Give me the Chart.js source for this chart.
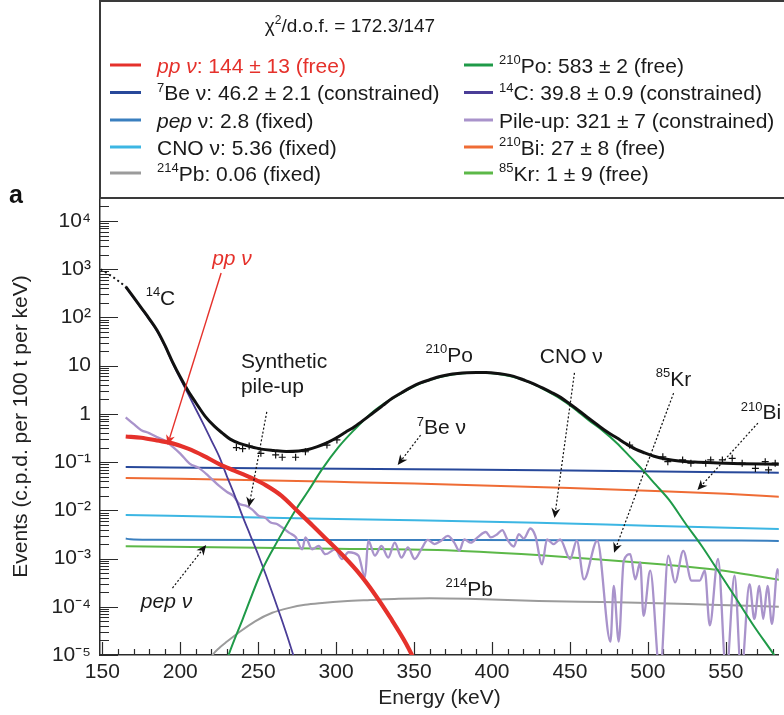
<!DOCTYPE html>
<html><head><meta charset="utf-8">
<script src="https://cdn.jsdelivr.net/npm/chart.js@4.4.1/dist/chart.umd.min.js"></script>
<style>html,body{margin:0;padding:0;background:#fff}canvas{display:block}</style>
</head><body>
<canvas id="c" width="784" height="715" style="width:784px;height:715px"></canvas>
<script>
// ---------- data ----------
const xTickValues = [150, 200, 250, 300, 350, 400, 450, 500, 550];
const yTickValues = [1e-5, 1e-4, 1e-3, 1e-2, 1e-1, 1, 10, 1e2, 1e3, 1e4];
const yTickLabels = ['10⁻⁵', '10⁻⁴', '10⁻³', '10⁻²', '10⁻¹', '1', '10', '10²', '10³', '10⁴'];

const totalLeadE = [149, 157, 165];
const totalLeadV = [1000, 680, 437];
const totalE = [165,170,175,180,185,190,195,200,205,210,216,222,227,232,238,245,252,260,268,276,282,288,294,300,306,312,318,324,330,336,342,348,354,360,366,372,378,384,390,396,402,408,414,420,426,432,438,444,450,456,462,468,474,480,486,492,498,504,512,520,530,545,560,575,585];
const totalV = [437,263,158,95,55,27,12,5.8,3.0,1.7,0.89,0.55,0.40,0.30,0.245,0.21,0.186,0.174,0.166,0.17,0.182,0.209,0.25,0.316,0.417,0.55,0.76,1.07,1.5,2.1,2.75,3.55,4.4,5.1,5.9,6.5,6.9,7.15,7.25,7.2,7.0,6.6,6.0,5.1,4.3,3.5,2.8,2.2,1.6,1.15,0.81,0.58,0.42,0.32,0.24,0.186,0.155,0.132,0.115,0.105,0.1,0.096,0.093,0.091,0.09];

const dataE = [236,240,244.2,251.7,261.2,265.4,274,280.3,294.1,300.5,488.3,509.6,512.8,522.3,527.6,537.1,540.3,547.8,554.1,560.5,569,575.3,577.4,581.7];
const dataV = [0.2,0.19,0.216,0.152,0.141,0.126,0.126,0.164,0.226,0.288,0.226,0.129,0.102,0.111,0.095,0.095,0.111,0.111,0.12,0.095,0.074,0.102,0.069,0.095];

const ppE = [165,175,185,195,205,215,225,235,245,255,265,275,285,295,305,315,325,335,345,352];
const ppV = [0.34,0.32,0.28,0.245,0.19,0.135,0.091,0.066,0.048,0.033,0.02,0.0098,0.0048,0.0023,0.0011,4.8e-4,1.78e-4,5.8e-5,1.7e-5,6e-6];

const po210E = [228,231,240,252.5,263,274,282.4,290.7,301.5,312,322,332,342,352,362,372,382,392,402,412,422,432,442,452,462,471,480,488,496.6,505,513.5,524,534.8,545,556,568,581,588];
const po210V = [5e-6,1e-5,5.5e-5,5.8e-4,2.5e-3,0.0102,0.026,0.069,0.204,0.48,1.0,1.74,2.7,4.0,5.25,6.3,7.0,7.15,6.85,6.0,4.8,3.4,2.25,1.35,0.74,0.45,0.25,0.135,0.069,0.034,0.0166,5.4e-3,1.78e-3,5.6e-4,1.6e-4,4e-5,1e-5,4.5e-6];

const c14E = [165,170,175,180,185,190,195,200,205,210,215,220,225,230,235,240,245,250,255,260,265,270,275];
const c14V = [430,258,155,92,53,26,11.5,5.4,2.6,1.25,0.6,0.28,0.13,0.05,0.02,7.5e-3,3e-3,1.2e-3,4.5e-4,1.6e-4,5.5e-5,1.8e-5,5.5e-6];

const pileE = [165,170,175,180,185,190,195,200,206,212,218,225,230,234,238,242,246,250.6,254,258,262,265.4,270,274,278.2,280.3,284.6,288.8,293.1,299.4,303.7,307.9,314.3,318.5,320.6,324.9,329.1,333.4,337.6,341.9,346.1,350.4,354.6,358.8,363.1,367.3,371.6,375.8,379,382.2,386.4,390.7,396,399.2,403.4,406.6,409.8,414,417.2,420.4,424.6,427.8,432.1,435.3,439.5,443.7,450.1,454.4,459,467.5,476,478.1,481.3,484.5,488.7,491.9,495.1,497.2,501.5,507.8,513.1,517.4,522.7,528,533.3,536.5,539.7,545,550.3,555.6,559.9,565.2,568.3,571.5,574,576.8,579.6,583.2,586];
const pileV = [0.85,0.62,0.46,0.4,0.33,0.28,0.21,0.15,0.093,0.075,0.052,0.032,0.024,0.02,0.0135,0.0125,0.0105,0.0076,0.0072,0.0056,0.0052,0.0044,0.0034,0.0028,0.00155,0.00275,0.00155,0.00182,0.00123,0.00155,0.00098,0.00135,0.00115,0.00041,0.00234,0.00115,0.00182,0.00105,0.00214,0.00105,0.0017,0.00098,0.00155,0.00245,0.002,0.00234,0.00295,0.00214,0.00145,0.0025,0.00214,0.00275,0.00355,0.00275,0.0032,0.0039,0.0025,0.00178,0.0032,0.0026,0.0042,0.00295,0.00076,0.0025,0.002,0.0025,0.00098,0.00234,0.00037,0.00234,1.9e-5,2.7e-4,1.9e-5,8.9e-4,1.23e-3,3.7e-4,8.3e-4,6.5e-5,5.6e-4,4e-6,1.15e-3,3.2e-4,1.45e-3,3.5e-4,3.5e-4,5.6e-4,4.1e-5,9.8e-4,4e-6,4.4e-4,4e-6,2.95e-4,5.6e-5,2.7e-4,5.6e-5,2.7e-4,4.4e-5,6e-4,2e-4];

const be7E = [165,250,350,450,550,585];
const be7V = [0.079,0.075,0.071,0.067,0.062,0.06];
const bi210E = [165,200,250,300,350,400,450,500,550,585];
const bi210V = [0.047,0.045,0.042,0.039,0.036,0.0325,0.029,0.0255,0.022,0.019];
const cnoE = [165,250,350,429,500,585];
const cnoV = [0.008,0.0071,0.0062,0.0055,0.0048,0.0041];
const pepE = [165,168,180,300,450,560,585];
const pepV = [0.0026,0.0025,0.00245,0.00243,0.0024,0.00237,0.00232];
const kr85E = [165,250,300,365,429,471,510,545,565,585];
const kr85V = [0.0018,0.00168,0.0016,0.0015,0.00118,0.00095,0.00075,0.00058,0.00046,0.00036];
const pb214E = [218,220.7,225,230,238,248,259,270,280,291,305,322,340,360,400,430,470,500,540,585];
const pb214V = [7e-6,1e-5,1.4e-5,1.9e-5,3e-5,5e-5,7.5e-5,9.5e-5,1.1e-4,1.2e-4,1.3e-4,1.38e-4,1.46e-4,1.5e-4,1.42e-4,1.32e-4,1.25e-4,1.2e-4,1.1e-4,1e-4];

// legend texts (* toggles italic, ^{..} superscript)
const legendTitle = 'χ^{2}/d.o.f. = 172.3/147';
const legendLeft = ['*pp ν*: 144 ± 13 (free)', '^{7}Be ν: 46.2 ± 2.1 (constrained)', '*pep* ν: 2.8 (fixed)', 'CNO ν: 5.36 (fixed)', '^{214}Pb: 0.06 (fixed)'];
const legendRight = ['^{210}Po: 583 ± 2 (free)', '^{14}C: 39.8 ± 0.9 (constrained)', 'Pile-up: 321 ± 7 (constrained)', '^{210}Bi: 27 ± 8 (free)', '^{85}Kr: 1 ± 9 (free)'];

// annotation labels in data coordinates [text, energy, value, align]
const annoLabels = [
  ['*pp ν*', 233.2, 1780, 'center', 'pp'],
  ['^{14}C', 187.3, 263, 'center'],
  ['Synthetic', 238.9, 12.6, 'left'],
  ['pile-up', 238.9, 3.8, 'left'],
  ['^{210}Po', 372.6, 17.4, 'center'],
  ['^{7}Be ν', 367.5, 0.54, 'center'],
  ['CNO ν', 450.9, 16.6, 'center'],
  ['^{85}Kr', 516.5, 5.56, 'center'],
  ['^{210}Bi', 572.5, 1.1, 'center'],
  ['^{214}Pb', 385.4, 2.45e-4, 'center'],
  ['*pep ν*', 191.2, 1.38e-4, 'center']
];
// arrows [E1, v1, E2, v2, dotted]
const annoArrows = [
  [226.2, 832, 191.8, 0.226, false],
  [255.5, 1.1, 244, 0.0117, true],
  [354.2, 0.363, 339.5, 0.087, true],
  [452.9, 7.1, 440.1, 0.0069, true],
  [516.5, 2.7, 478.3, 0.00132, true],
  [570.6, 0.646, 531.8, 0.0263, true],
  [195, 2.45e-4, 216.6, 1.9e-3, true]
];

// ---------- styles ----------
const FONT = "'Liberation Sans', Arial, Helvetica, sans-serif";
const C = {
  total:'#111111', pp:'#e5312b', be7:'#27489a', pep:'#3a7fbf', cno:'#3cb6e3', pb214:'#9b9b9b',
  po210:'#1f9a48', c14:'#4a3d97', pile:'#a993cb', bi210:'#ef6c35', kr85:'#5cb848'
};
const pts = (E, V) => E.map((e, i) => ({x: e, y: V[i]}));
const line = (label, E, V, color, w, extra) => Object.assign({label, data: pts(E, V), borderColor: color, backgroundColor: color, borderWidth: w, pointRadius: 0, fill: false}, extra || {});

const datasets = [
  Object.assign(line('Data', dataE, dataV, '#111', 1.2), {showLine: false, pointRadius: 3.5, pointStyle: 'cross', pointBorderWidth: 1.2}),
  line('Total fit', totalE, totalV, C.total, 3),
  line('Total fit (lead)', totalLeadE, totalLeadV, C.total, 2, {borderDash: [2, 3]}),
  line('pp ν', ppE, ppV, C.pp, 4.2),
  line('210Po', po210E, po210V, C.po210, 2),
  line('14C', c14E, c14V, C.c14, 1.8),
  line('Pile-up', pileE, pileV, C.pile, 2.3),
  line('7Be ν', be7E, be7V, C.be7, 2),
  line('210Bi', bi210E, bi210V, C.bi210, 2),
  line('CNO ν', cnoE, cnoV, C.cno, 2),
  line('pep ν', pepE, pepV, C.pep, 2),
  line('85Kr', kr85E, kr85V, C.kr85, 2),
  line('214Pb', pb214E, pb214V, C.pb214, 2)
];

// ---------- rich text helpers ----------
function parseRich(s) {
  const out = []; let it = false, buf = '', i = 0;
  const push = (sup) => { if (buf) { out.push({t: buf, sup: !!sup, it}); buf = ''; } };
  while (i < s.length) {
    const ch = s[i];
    if (ch === '*') { push(); it = !it; i++; continue; }
    if (ch === '^' && s[i + 1] === '{') { push(); const j = s.indexOf('}', i); buf = s.slice(i + 2, j); push(true); i = j + 1; continue; }
    buf += ch; i++;
  }
  push(); return out;
}
function segFont(g, size) { return (g.it ? 'italic ' : '') + (g.sup ? Math.round(size * 0.64) : size) + 'px ' + FONT; }
function drawRich(ctx, s, x, y, size, color, align) {
  const segs = parseRich(s); let w = 0;
  segs.forEach(g => { ctx.font = segFont(g, size); g.w = ctx.measureText(g.t).width; w += g.w; });
  let cx = align === 'center' ? x - w / 2 : (align === 'right' ? x - w : x);
  const base = y + size * 0.36;
  ctx.fillStyle = color; ctx.textAlign = 'left'; ctx.textBaseline = 'alphabetic';
  segs.forEach(g => { ctx.font = segFont(g, size); ctx.fillText(g.t, cx, g.sup ? base - size * 0.4 : base); cx += g.w; });
}
function arrow(ctx, x1, y1, x2, y2, color, dotted) {
  ctx.save(); ctx.strokeStyle = color; ctx.fillStyle = color; ctx.lineWidth = dotted ? 1.2 : 1.4;
  const a = Math.atan2(y2 - y1, x2 - x1), hl = 10, hw = 4.5;
  const bx = x2 - hl * Math.cos(a), by = y2 - hl * Math.sin(a);
  ctx.setLineDash(dotted ? [2, 2] : []);
  ctx.beginPath(); ctx.moveTo(x1, y1); ctx.lineTo(bx + 3 * Math.cos(a), by + 3 * Math.sin(a)); ctx.stroke();
  ctx.setLineDash([]);
  ctx.beginPath(); ctx.moveTo(x2, y2);
  ctx.lineTo(bx - hw * Math.sin(a), by + hw * Math.cos(a));
  ctx.lineTo(bx + 3 * Math.cos(a), by + 3 * Math.sin(a));
  ctx.lineTo(bx + hw * Math.sin(a), by - hw * Math.cos(a));
  ctx.closePath(); ctx.fill(); ctx.restore();
}

const decor = {
  id: 'decor',
  beforeDatasetsDraw(chart) {
    const {ctx, chartArea: a, scales: {x, y}} = chart;
    ctx.save(); ctx.strokeStyle = '#2a2a2a'; ctx.lineWidth = 1.2; ctx.beginPath();
    for (let v = 150; v <= x.max; v += 10) {
      const px = Math.round(x.getPixelForValue(v)) + 0.5, len = v % 50 === 0 ? 13 : 6;
      ctx.moveTo(px, a.bottom); ctx.lineTo(px, a.bottom - len);
    }
    for (let k = -5; k <= 4; k++) for (let m = 1; m <= 9; m++) {
      const v = m * Math.pow(10, k); if (v > y.max * 0.999) continue;
      const py = Math.round(y.getPixelForValue(v)) + 0.5, len = m === 1 ? 18 : 9;
      ctx.moveTo(a.left, py); ctx.lineTo(a.left + len, py);
    }
    ctx.stroke(); ctx.restore();
  },
  afterDatasetsDraw(chart) {
    const {ctx, scales: {x, y}} = chart;
    annoArrows.forEach(r => arrow(ctx, x.getPixelForValue(r[0]), y.getPixelForValue(r[1]), x.getPixelForValue(r[2]), y.getPixelForValue(r[3]), r[4] ? '#111' : C.pp, r[4]));
    annoLabels.forEach(r => drawRich(ctx, r[0], x.getPixelForValue(r[1]), y.getPixelForValue(r[2]), 21, r[4] === 'pp' ? C.pp : '#1a1a1a', r[3]));
  },
  afterDraw(chart) {
    const {ctx, chartArea: a} = chart;
    ctx.save();
    // legend frame
    ctx.strokeStyle = '#3a3a3a'; ctx.lineWidth = 2;
    ctx.beginPath(); ctx.moveTo(chart.width + 5, 1); ctx.lineTo(a.left, 1); ctx.lineTo(a.left, a.top); ctx.lineTo(chart.width + 5, a.top); ctx.stroke();
    drawRich(ctx, legendTitle, 350, 25, 19, '#1a1a1a', 'center');
    const rows = [65, 92.5, 120, 147, 173];
    const leftColors = [C.pp, C.be7, C.pep, C.cno, C.pb214];
    const rightColors = [C.po210, C.c14, C.pile, C.bi210, C.kr85];
    rows.forEach((ry, i) => {
      ctx.lineWidth = 3;
      ctx.strokeStyle = leftColors[i]; ctx.beginPath(); ctx.moveTo(110, ry); ctx.lineTo(141, ry); ctx.stroke();
      drawRich(ctx, legendLeft[i], 157, ry, 21, i === 0 ? C.pp : '#1a1a1a', 'left');
      ctx.strokeStyle = rightColors[i]; ctx.beginPath(); ctx.moveTo(464, ry); ctx.lineTo(493, ry); ctx.stroke();
      drawRich(ctx, legendRight[i], 499, ry, 21, '#1a1a1a', 'left');
    });
    ctx.font = 'bold 25px ' + FONT; ctx.fillStyle = '#111'; ctx.textBaseline = 'middle'; ctx.textAlign = 'left';
    ctx.fillText('a', 9, 196);
    ctx.restore();
  }
};

const tickFont = {family: FONT, size: 21};
new Chart(document.getElementById('c').getContext('2d'), {
  type: 'line',
  data: {datasets},
  options: {
    responsive: false, animation: false, devicePixelRatio: 1,
    layout: {padding: {top: 198, left: 0, right: 0, bottom: 0}},
    plugins: {legend: {display: false}, title: {display: false}, tooltip: {enabled: false}},
    elements: {line: {cubicInterpolationMode: 'monotone'}},
    scales: {
      x: {
        type: 'linear', min: 148.5, max: 584,
        afterFit(s) { s.height = 60; },
        afterBuildTicks(s) { s.ticks = xTickValues.map(v => ({value: v})); },
        grid: {display: false, drawTicks: false},
        border: {display: true, color: '#2a2a2a', width: 1.5},
        ticks: {font: tickFont, color: '#222', padding: 5, maxRotation: 0, autoSkip: false},
        title: {display: true, text: 'Energy (keV)', font: tickFont, color: '#222', padding: {top: 0, bottom: 4}}
      },
      y: {
        type: 'logarithmic', min: 1e-5, max: 3e4,
        afterFit(s) { s.width = 100; },
        afterBuildTicks(s) { s.ticks = yTickValues.map(v => ({value: v})); },
        grid: {display: false, drawTicks: false},
        border: {display: true, color: '#2a2a2a', width: 1.5},
        ticks: {
          font: tickFont, color: '#222', padding: 9, autoSkip: false,
          callback: (v) => { const i = yTickValues.findIndex(t => Math.abs(Math.log10(t) - Math.log10(v)) < 1e-6); return i < 0 ? '' : yTickLabels[i]; }
        },
        title: {display: true, text: 'Events (c.p.d. per 100 t per keV)', font: tickFont, color: '#222', padding: {top: 9, bottom: 0}}
      }
    }
  },
  plugins: [decor]
});
</script>
</body></html>
